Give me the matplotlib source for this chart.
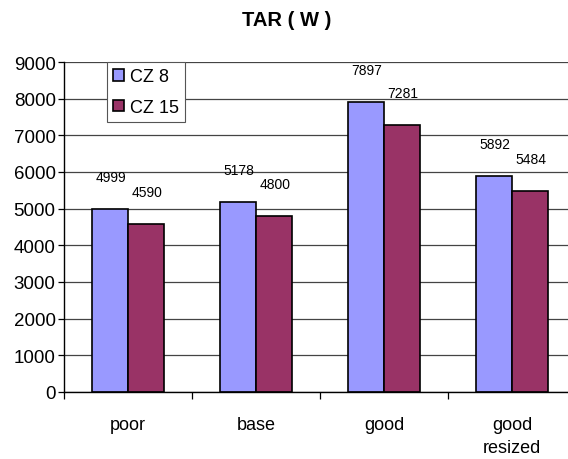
import numpy as np
import matplotlib.pyplot as plt
from matplotlib.ticker import FixedLocator, NullFormatter

plt.rcParams['font.family'] = ['Liberation Sans', 'DejaVu Sans']

# data
categories = ['poor', 'base', 'good', 'good\nresized']
cz8 = [4999, 5178, 7897, 5892]
cz15 = [4590, 4800, 7281, 5484]
series_names = ['CZ 8', 'CZ 15']

c8 = '#9999FF'
c15 = '#993366'

fig = plt.figure(figsize=(5.68, 4.6), dpi=100)
ax = fig.add_axes([64 / 568, 1 - 393 / 460, 512 / 568, 330 / 460])

x = np.arange(len(categories))
bw = 0.285
b1 = ax.bar(x - bw / 2, cz8, width=bw, color=c8, edgecolor='black', linewidth=1.2,
            label=series_names[0], zorder=3)
b2 = ax.bar(x + bw / 2, cz15, width=bw, color=c15, edgecolor='black', linewidth=1.2,
            label=series_names[1], zorder=3)

# data labels, sitting well above the bars like in the excel chart
for bars, vals in ((b1, cz8), (b2, cz15)):
    for r, v in zip(bars, vals):
        ax.annotate(str(v), (r.get_x() + r.get_width() / 2, v), xytext=(1, 32),
                    textcoords='offset pixels', ha='center', va='center',
                    fontsize=10, zorder=4)

ax.set_xlim(-0.5, 3.5)
ax.set_ylim(0, 9000)
ax.set_yticks(np.arange(0, 9001, 1000))
ax.yaxis.grid(True, color='#444444', linewidth=0.9, zorder=0)
ax.tick_params(axis='y', direction='out', length=4, width=0.9, labelsize=13.5, pad=2)

# category boundary ticks, labels at centres
ax.xaxis.set_major_locator(FixedLocator([-0.5, 0.5, 1.5, 2.5, 3.5]))
ax.xaxis.set_major_formatter(NullFormatter())
ax.xaxis.set_minor_locator(FixedLocator(x))
ax.set_xticklabels(categories, minor=True)
ax.tick_params(axis='x', which='major', direction='out', length=5, width=0.9)
ax.tick_params(axis='x', which='minor', length=0, labelsize=13, pad=17)
for lab in ax.get_xticklabels(minor=True):
    lab.set_linespacing(1.5)
    lab.set_va('top')

for s in ['top', 'right']:
    ax.spines[s].set_visible(False)
for s in ['left', 'bottom']:
    ax.spines[s].set_linewidth(1.0)
    ax.spines[s].set_zorder(5)

leg = ax.legend(loc='upper left', bbox_to_anchor=(107 / 568, 1 - 63 / 460),
                bbox_transform=fig.transFigure, fontsize=13, frameon=True,
                fancybox=False, edgecolor='#555555', framealpha=1,
                handlelength=0.6, handleheight=0.6, handletextpad=0.3,
                labelspacing=0.75, borderpad=0.35, borderaxespad=0)
leg.get_frame().set_linewidth(0.8)

fig.text(0.505, 1 - 21 / 460, 'TAR ( W )', ha='center', va='center',
         fontsize=14.5, fontweight='bold')

fig.savefig('out.png', dpi=100)
